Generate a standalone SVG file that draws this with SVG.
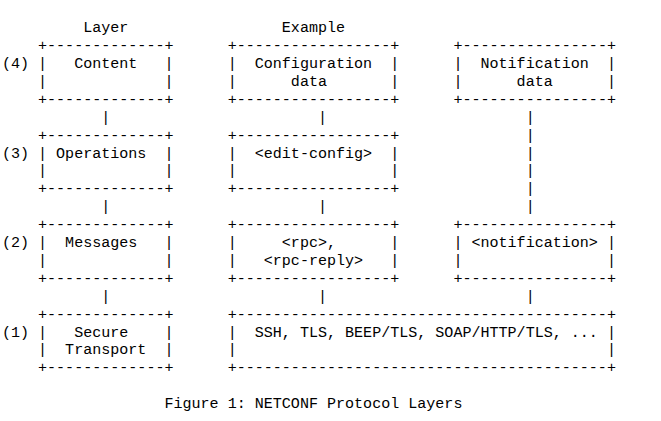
<svg xmlns="http://www.w3.org/2000/svg" width="661" height="421" viewBox="0 0 661 421" xml:space="preserve">
<style>
text{font-family:"Liberation Mono","DejaVu Sans Mono",monospace;font-size:15.05px;fill:#000;white-space:pre}
</style>
<rect width="661" height="421" fill="#fff"/>
<g id="headers">
<text x="83.19" y="32.2">Layer</text>
<text x="281.85" y="32.2">Example</text>
</g>
<g id="levels">
<text x="1.92" y="68">(4)</text>
<text x="1.92" y="157.5">(3)</text>
<text x="1.92" y="247">(2)</text>
<text x="1.92" y="336.5">(1)</text>
</g>
<g id="node-content">
<text x="38.04" y="50.1">+-------------+</text>
<text x="38.04" y="68">|   Content   |</text>
<text x="38.04" y="85.9">|             |</text>
<text x="38.04" y="103.8">+-------------+</text>
</g>
<g id="node-configuration-data">
<text x="227.67" y="50.1">+-----------------+</text>
<text x="227.67" y="68">|  Configuration  |</text>
<text x="227.67" y="85.9">|      data       |</text>
<text x="227.67" y="103.8">+-----------------+</text>
</g>
<g id="node-notification-data">
<text x="453.42" y="50.1">+----------------+</text>
<text x="453.42" y="68">|  Notification  |</text>
<text x="453.42" y="85.9">|      data      |</text>
<text x="453.42" y="103.8">+----------------+</text>
</g>
<g id="node-operations">
<text x="38.04" y="139.6">+-------------+</text>
<text x="38.04" y="157.5">| Operations  |</text>
<text x="38.04" y="175.4">|             |</text>
<text x="38.04" y="193.3">+-------------+</text>
</g>
<g id="node-edit-config">
<text x="227.67" y="139.6">+-----------------+</text>
<text x="227.67" y="157.5">|  &lt;edit-config&gt;  |</text>
<text x="227.67" y="175.4">|                 |</text>
<text x="227.67" y="193.3">+-----------------+</text>
</g>
<g id="node-messages">
<text x="38.04" y="229.1">+-------------+</text>
<text x="38.04" y="247">|  Messages   |</text>
<text x="38.04" y="264.9">|             |</text>
<text x="38.04" y="282.8">+-------------+</text>
</g>
<g id="node-rpc">
<text x="227.67" y="229.1">+-----------------+</text>
<text x="227.67" y="247">|     &lt;rpc&gt;,      |</text>
<text x="227.67" y="264.9">|   &lt;rpc-reply&gt;   |</text>
<text x="227.67" y="282.8">+-----------------+</text>
</g>
<g id="node-notification">
<text x="453.42" y="229.1">+----------------+</text>
<text x="453.42" y="247">| &lt;notification&gt; |</text>
<text x="453.42" y="264.9">|                |</text>
<text x="453.42" y="282.8">+----------------+</text>
</g>
<g id="node-secure-transport">
<text x="38.04" y="318.6">+-------------+</text>
<text x="38.04" y="336.5">|   Secure    |</text>
<text x="38.04" y="354.4">|  Transport  |</text>
<text x="38.04" y="372.3">+-------------+</text>
</g>
<g id="node-transports">
<text x="227.67" y="318.6">+-----------------------------------------+</text>
<text x="227.67" y="336.5">|  SSH, TLS, BEEP/TLS, SOAP/HTTP/TLS, ... |</text>
<text x="227.67" y="354.4">|                                         |</text>
<text x="227.67" y="372.3">+-----------------------------------------+</text>
</g>
<g id="connectors">
<text x="101.25" y="121.7">|</text>
<text x="101.25" y="211.2">|</text>
<text x="101.25" y="300.7">|</text>
<text x="317.97" y="121.7">|</text>
<text x="317.97" y="211.2">|</text>
<text x="317.97" y="300.7">|</text>
<text x="525.66" y="121.7">|</text>
<text x="525.66" y="139.6">|</text>
<text x="525.66" y="157.5">|</text>
<text x="525.66" y="175.4">|</text>
<text x="525.66" y="193.3">|</text>
<text x="525.66" y="211.2">|</text>
<text x="525.66" y="300.7">|</text>
</g>
<g id="caption">
<text x="164.46" y="408.1">Figure 1: NETCONF Protocol Layers</text>
</g>
</svg>
